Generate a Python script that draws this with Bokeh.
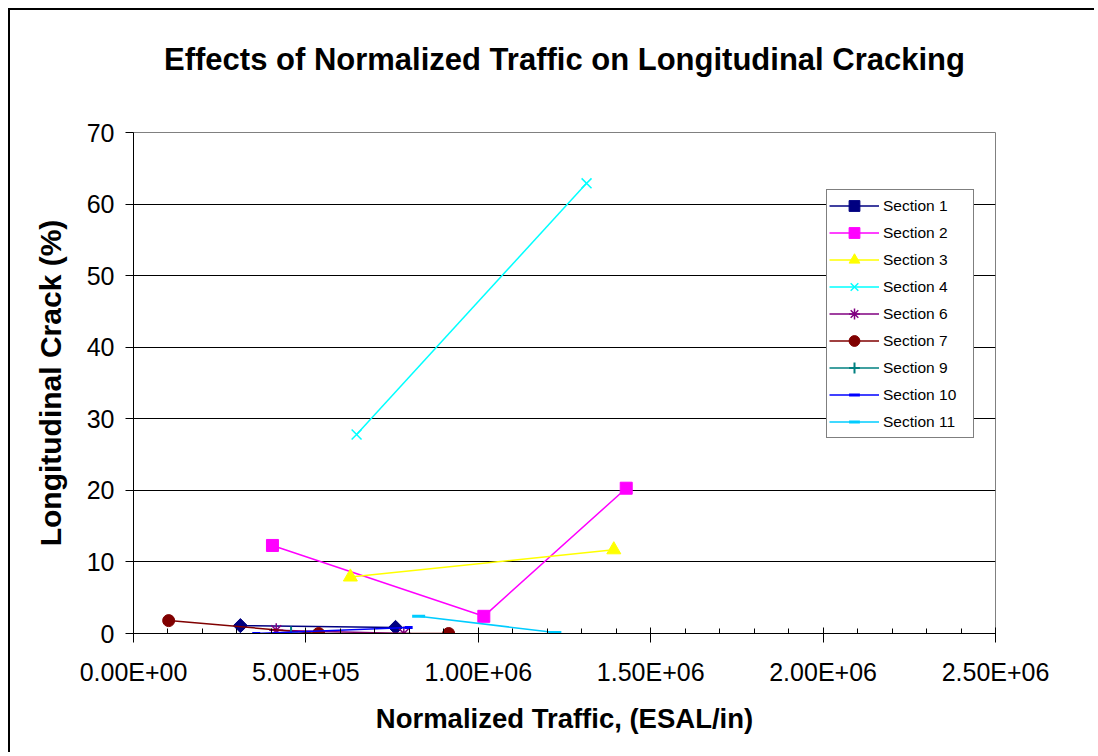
import math
from bokeh.plotting import figure
from bokeh.models import (Legend, LegendItem, SingleIntervalTicker,
                          CustomJSTickFormatter, Range1d, Title)
from bokeh.embed import file_html
from bokeh.resources import INLINE

FONT = "Liberation Sans"

# ---- data ----
title_text = "Effects of Normalized Traffic on Longitudinal Cracking"
labels = ["Section 1", "Section 2", "Section 3", "Section 4", "Section 6",
          "Section 7", "Section 9", "Section 10", "Section 11"]

s1_x = [3.10e5, 7.60e5]
s1_y = [1.1, 0.85]
s2_x = [4.03e5, 1.016e6, 1.429e6]
s2_y = [12.3, 2.4, 20.3]
s3_x = [6.29e5, 1.393e6]
s3_y = [7.9, 11.7]
s4_x = [6.47e5, 1.314e6]
s4_y = [27.8, 62.9]
s6_x = [4.14e5, 7.84e5]
s6_y = [0.45, 0.0]
s7_x = [1.02e5, 5.37e5, 9.14e5]
s7_y = [1.8, 0.0, 0.0]
s9_x = [4.57e5]
s9_y = [0.0]
s10_x = [3.56e5, 7.98e5]
s10_y = [0.0, 0.85]
s11_x = [8.27e5, 1.222e6]
s11_y = [2.4, 0.15]

xs = [s1_x, s2_x, s3_x, s4_x, s6_x, s7_x, s9_x, s10_x, s11_x]
ys = [s1_y, s2_y, s3_y, s4_y, s6_y, s7_y, s9_y, s10_y, s11_y]

colors = ["#000080", "#FF00FF", "#FFFF00", "#00FFFF", "#800080",
          "#800000", "#008080", "#0000FF", "#00CCFF"]
markers = ["square", "square", "triangle", "x", "asterisk",
           "circle", "cross", "dash", "dash"]
angles = [math.pi / 4, 0, 0, 0, 0, 0, 0, 0, 0]
sizes = [10, 12, 14, 14, 14, 12, 14, 8, 13]
mwidths = [1, 1, 1, 1.5, 1.5, 1, 2, 3, 3]

x_ticks_interval = 5e5
y_ticks_interval = 10

p = figure(width=1086, height=744, output_backend="svg", toolbar_location=None,
           x_range=Range1d(0, 2.5e6), y_range=Range1d(0, 70),
           min_border_left=123, min_border_right=101,
           min_border_top=122, min_border_bottom=121,
           title=None)

# outer chart border on the left and top (drawn as a shadow, no layout change)
p.styles = {"margin-left": "10px", "margin-top": "10px",
            "box-shadow": "-2px -2px 0 0 black"}

# spacer keeps the title at its distance above the plot area
p.add_layout(Title(text=" ", text_font=FONT, text_font_size="49px",
                   standoff=0), "above")
p.add_layout(Title(text=title_text, text_font=FONT, text_font_size="31px",
                   text_font_style="bold", text_color="black",
                   align="center", offset=-8, standoff=0), "above")

p.outline_line_color = "#808080"
p.background_fill_color = "white"
p.border_fill_color = "white"

p.xgrid.grid_line_color = None
p.ygrid.grid_line_color = "black"
p.ygrid.grid_line_width = 1

# axes
p.xaxis.ticker = SingleIntervalTicker(interval=x_ticks_interval, num_minor_ticks=5)
p.xaxis.formatter = CustomJSTickFormatter(code="""
if (tick == 0) { return "0.00E+00"; }
const e = Math.floor(Math.log10(Math.abs(tick)) + 1e-9);
const m = tick / Math.pow(10, e);
const es = (e < 0 ? "-" : "+") + String(Math.abs(e)).padStart(2, "0");
return m.toFixed(2) + "E" + es;
""")
p.yaxis.ticker = SingleIntervalTicker(interval=y_ticks_interval, num_minor_ticks=0)
p.ygrid.ticker = p.yaxis.ticker

for ax in (p.xaxis[0], p.yaxis[0]):
    ax.axis_line_color = "black"
    ax.major_tick_line_color = "black"
    ax.minor_tick_line_color = "black"
    ax.major_label_text_font = FONT
    ax.major_label_text_font_size = "25px"
    ax.major_label_text_color = "black"
    ax.axis_label_text_font = FONT
    ax.axis_label_text_font_style = "bold"
    ax.axis_label_text_color = "black"

p.xaxis.axis_label = "Normalized Traffic, (ESAL/in)"
p.yaxis.axis_label = "Longitudinal Crack (%)"
p.xaxis.axis_label_text_font_size = "27.5px"
p.yaxis.axis_label_text_font_size = "30px"

p.xaxis.major_tick_in = 6
p.xaxis.major_tick_out = 9
p.xaxis.minor_tick_in = 5
p.xaxis.minor_tick_out = 0
p.xaxis.major_label_standoff = 15
p.xaxis.axis_label_standoff = 14

p.yaxis.major_tick_in = 0
p.yaxis.major_tick_out = 8
p.yaxis.minor_tick_line_color = None
p.yaxis.major_label_standoff = 11
p.yaxis.axis_label_standoff = 17

items = []
for lab, x, y, c, m, a, s, w in zip(labels, xs, ys, colors, markers, angles, sizes, mwidths):
    ln = p.line(x, y, line_color=c, line_width=1.5)
    sc = p.scatter(x, y, marker=m, angle=a, size=s, fill_color=c, line_color=c, line_width=w)
    items.append(LegendItem(label=lab, renderers=[ln, sc]))

legend = Legend(items=items, location=(693, 195))
legend.label_text_font = FONT
legend.label_text_font_size = "15.5px"
legend.label_text_color = "black"
legend.border_line_color = "black"
legend.border_line_width = 1
legend.background_fill_color = "white"
legend.background_fill_alpha = 1
legend.glyph_width = 50
legend.glyph_height = 27
legend.label_height = 20
legend.label_width = 88
legend.label_standoff = 4
legend.spacing = 0
legend.padding = 2
legend.margin = 0
p.add_layout(legend, "center")

open("out.html", "w").write(file_html(p, INLINE))
